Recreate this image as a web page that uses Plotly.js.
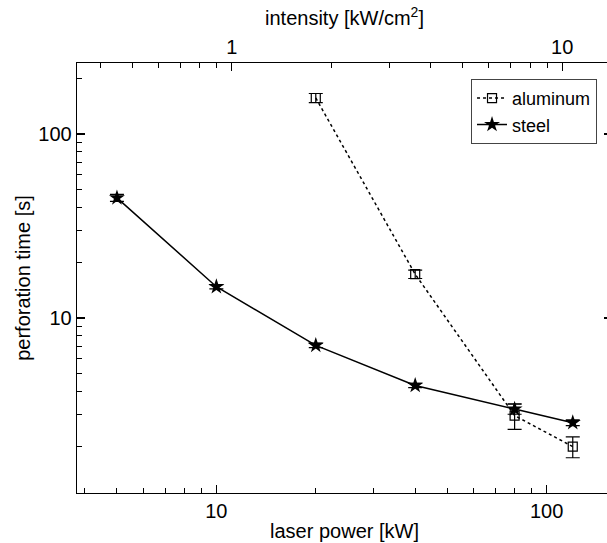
<!DOCTYPE html>
<html>
<head>
<meta charset="utf-8">
<script src="https://cdn.plot.ly/plotly-3.0.1.min.js"></script>
<style>
html, body { margin: 0; padding: 0; overflow: hidden; background: #fff; }
#chart { width: 620px; height: 543px; }
</style>
</head>
<body>
<div id="chart"></div>
<script>
// Data
const steelPower = [5, 10, 20, 40, 80, 120];          // laser power [kW]
const steelTime  = [45, 14.8, 7.1, 4.3, 3.2, 2.7];    // perforation time [s]
const steelErr   = [2, 0.4, 0.2, 0.12, 0.2, 0.1];
const alPower = [20, 40, 80, 120];
const alTime  = [157, 17.3, 2.95, 2.0];
const alErr   = [9, 0.9, 0.47, 0.26];

const xTickVals = [10, 100];
const xMinorVals = [4, 5, 6, 7, 8, 9, 20, 30, 40, 50, 60, 70, 80, 90];
const yTickVals = [10, 100];
const yMinorVals = [2, 3, 4, 5, 6, 7, 8, 9, 20, 30, 40, 50, 60, 70, 80, 90, 200];
const topTickVals = [1, 10];
const topMinorVals = [0.4, 0.5, 0.6, 0.7, 0.8, 0.9, 2, 3, 4, 5, 6, 7, 8, 9];

const FONT = 'Liberation Sans, Arial, sans-serif';

const traces = [
  {
    x: alPower, y: alTime, name: 'aluminum', type: 'scatter', mode: 'lines+markers',
    line: { color: 'black', width: 1.5, dash: '3px,3px' },
    marker: { symbol: 'square-open', size: 9, color: 'black', line: { width: 1.2, color: 'black' } },
    error_y: { type: 'data', array: alErr, visible: true, color: 'black', thickness: 1.2, width: 7 }
  },
  {
    x: steelPower, y: steelTime, name: 'steel', type: 'scatter', mode: 'lines+markers',
    line: { color: 'black', width: 1.5 },
    marker: { symbol: 'star', size: 12, color: 'black' },
    error_y: { type: 'data', array: steelErr, visible: true, color: 'black', thickness: 1.2, width: 7 }
  },
  {
    // empty trace so that the top (intensity) axis is drawn
    x: [], y: [], xaxis: 'x2', yaxis: 'y', type: 'scatter', mode: 'markers',
    showlegend: false, hoverinfo: 'skip'
  }
];

const axisCommon = {
  type: 'log', showgrid: false, zeroline: false, showline: true,
  linecolor: 'black', linewidth: 1.3,
  ticks: 'inside', ticklen: 8, tickwidth: 1.2, tickcolor: 'black',
  tickfont: { family: FONT, size: 20, color: 'black' },
  tickmode: 'array'
};

const layout = {
  width: 620, height: 543,
  margin: { l: 77, r: 8, t: 63, b: 50 },
  paper_bgcolor: 'white', plot_bgcolor: 'white',
  font: { family: FONT, size: 20, color: 'black' },
  showlegend: true,
  legend: {
    x: 0.972, y: 0.963, xanchor: 'right', yanchor: 'top',
    bgcolor: 'white', bordercolor: '#444', borderwidth: 1,
    font: { family: FONT, size: 18, color: 'black' },
    itemwidth: 30, tracegroupgap: 0
  },
  xaxis: Object.assign({}, axisCommon, {
    range: [0.578, 2.198],
    tickvals: xTickVals,
    minor: { tickmode: 'array', tickvals: xMinorVals, ticks: 'inside', ticklen: 5, tickwidth: 1, tickcolor: 'black', showgrid: false },
    title: { text: 'laser power [kW]', font: { family: FONT, size: 20, color: 'black' }, standoff: 2 }
  }),
  xaxis2: Object.assign({}, axisCommon, {
    overlaying: 'x', side: 'top', anchor: 'y',
    range: [-0.469, 1.151],
    tickvals: topTickVals,
    minor: { tickmode: 'array', tickvals: topMinorVals, ticks: 'inside', ticklen: 5, tickwidth: 1, tickcolor: 'black', showgrid: false },
    title: { text: 'intensity [kW/cm<sup>2</sup>]', font: { family: FONT, size: 20, color: 'black' }, standoff: 4 }
  }),
  yaxis: Object.assign({}, axisCommon, {
    range: [0.049, 2.386],
    mirror: 'ticks',
    tickvals: yTickVals,
    minor: { tickmode: 'array', tickvals: yMinorVals, ticks: 'inside', ticklen: 5, tickwidth: 1, tickcolor: 'black', showgrid: false },
    title: { text: 'perforation time [s]', font: { family: FONT, size: 20, color: 'black' }, standoff: 2 }
  })
};

Plotly.newPlot('chart', traces, layout, { displayModeBar: false, staticPlot: true });
</script>
</body>
</html>
